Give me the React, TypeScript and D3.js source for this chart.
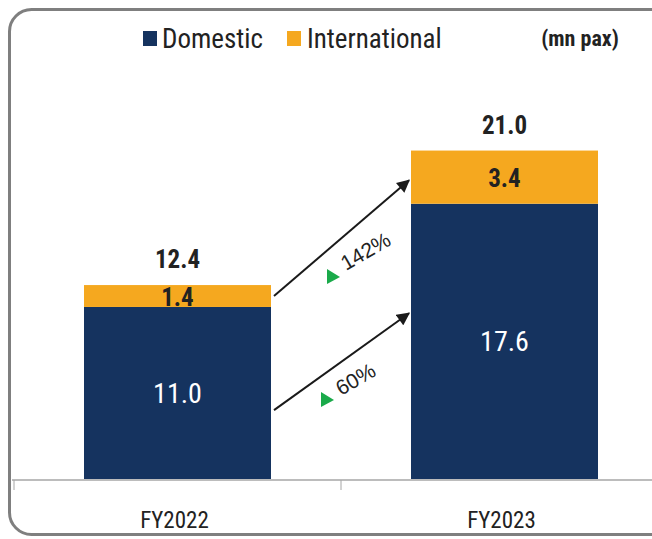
import React from "react";
import * as d3 from "d3";

const categories = ["FY2022", "FY2023"];
const domestic = [11.0, 17.6];
const international = [1.4, 3.4];
const totals = [12.4, 21.0];
const growthLabels = ["142%", "60%"];
// arrow anchor values (start on FY2022 side, end on FY2023 side)
const arrowFrom = [11.7, 4.4];
const arrowTo = [19.1, 10.6];
const seriesNames = ["Domestic", "International"];

const W = 652;
const H = 539;
const NAVY = "#15335f";
const ORANGE = "#f5a81f";
const FONT = "'Liberation Sans Narrow', 'Roboto Condensed', 'Liberation Sans', sans-serif";

export default function App() {
  const x = d3.scaleBand<string>().domain(categories).range([14, 668]).paddingInner(0).paddingOuter(0);
  const y = d3.scaleLinear().domain([0, 24]).range([479, 479 - 24 * 15.64]);
  const barW = 187;
  const cx = (i: number) => (x(categories[i]) as number) + x.bandwidth() / 2;

  const arrows = [0, 1].map((k) => {
    const x1 = cx(0) + barW / 2 + 3;
    const x2 = cx(1) - barW / 2 - 2;
    return { x1, y1: y(arrowFrom[k]), x2, y2: y(arrowTo[k]) };
  });

  return (
    <svg width={W} height={H} style={{ position: "absolute", left: 0, top: 0, background: "#fff" }} fontFamily={FONT}>
      <defs>
        <marker id="ah" viewBox="0 0 10 10" refX="9" refY="5" markerWidth="7" markerHeight="6.5" orient="auto" markerUnits="strokeWidth">
          <path d="M0,0 L10,5 L0,10 z" fill="#1a1a1a" />
        </marker>
      </defs>
      <rect x={9.5} y={9.5} width={700} height={525} rx={22} ry={22} fill="none" stroke="#7f7f7f" strokeWidth={3} />

      {/* legend */}
      <rect x={143} y={31} width={14} height={15} fill={NAVY} />
      <text x={162} y={48} fontSize={27} fill="#222">{seriesNames[0]}</text>
      <rect x={287} y={31} width={14} height={15} fill={ORANGE} />
      <text x={307} y={48} fontSize={27} fill="#222">{seriesNames[1]}</text>
      <text x={580} y={46} fontSize={22} fontWeight="bold" textAnchor="middle" fill="#222">(mn pax)</text>

      {/* bars */}
      {categories.map((c, i) => {
        const x0 = cx(i) - barW / 2;
        return (
          <g key={c}>
            <rect x={x0} y={y(domestic[i])} width={barW} height={y(0) - y(domestic[i])} fill={NAVY} />
            <rect x={x0} y={y(domestic[i] + international[i])} width={barW} height={y(domestic[i]) - y(domestic[i] + international[i])} fill={ORANGE} />
            <text x={cx(i)} y={(y(0) + y(domestic[i])) / 2 + 10} fontSize={28} fill="#fff" textAnchor="middle">{domestic[i].toFixed(1)}</text>
            <text x={cx(i)} y={(y(domestic[i]) + y(domestic[i] + international[i])) / 2 + 10} fontSize={25} fontWeight="bold" fill="#222" textAnchor="middle">{international[i].toFixed(1)}</text>
            <text x={cx(i)} y={y(totals[i]) - 17} fontSize={25} fontWeight="bold" fill="#222" textAnchor="middle">{totals[i].toFixed(1)}</text>
          </g>
        );
      })}

      {/* axis */}
      <line x1={12} x2={652} y1={480} y2={480} stroke="#a6a6a6" strokeWidth={1.5} />
      {[14, 341].map((t) => (
        <line key={t} x1={t} x2={t} y1={480} y2={490} stroke="#a6a6a6" strokeWidth={1} />
      ))}
      {categories.map((c, i) => (
        <text key={c} x={cx(i) - 3} y={528} fontSize={23} fill="#222" textAnchor="middle">{c}</text>
      ))}

      {/* growth arrows */}
      {arrows.map((a, k) => (
        <line key={k} x1={a.x1} y1={a.y1} x2={a.x2} y2={a.y2} stroke="#1a1a1a" strokeWidth={2} markerEnd="url(#ah)" />
      ))}
      {/* labels */}
      <g transform="translate(333,277)">
        <path d="M-6,-8 L7,0 L-6,7 Z" fill="#1aaa4a" />
      </g>
      <text transform="translate(346,271) rotate(-30)" fontSize={21} fill="#222" fontFamily="'Liberation Sans', Arial, sans-serif">{growthLabels[0]}</text>
      <g transform="translate(327,400)">
        <path d="M-6,-8 L7,0 L-6,7 Z" fill="#1aaa4a" />
      </g>
      <text transform="translate(341,396) rotate(-30)" fontSize={21} fill="#222" fontFamily="'Liberation Sans', Arial, sans-serif">{growthLabels[1]}</text>
    </svg>
  );
}
